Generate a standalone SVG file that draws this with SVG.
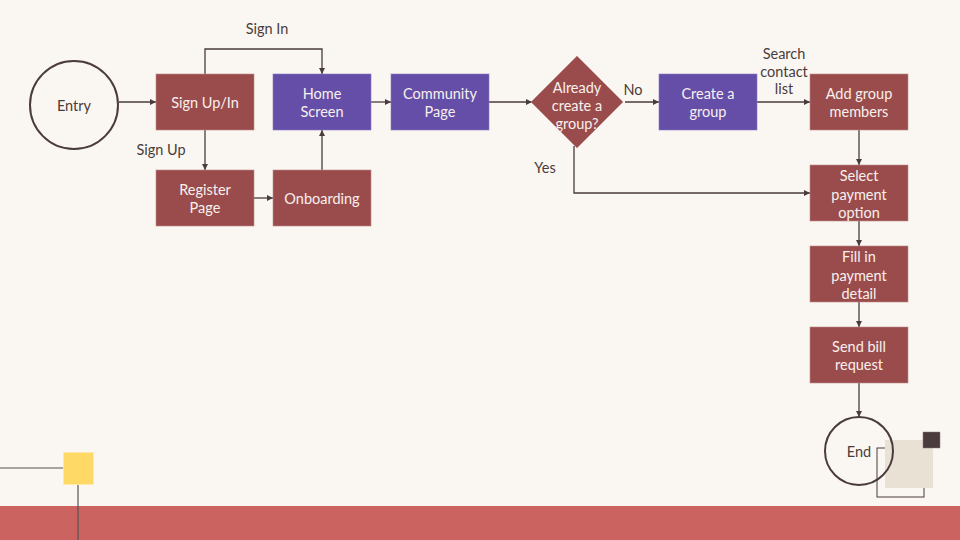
<svg xmlns="http://www.w3.org/2000/svg" width="960" height="540" viewBox="0 0 960 540">
<defs>
<marker id="ah" viewBox="0 0 10 10" refX="10" refY="5" markerWidth="6" markerHeight="6" markerUnits="userSpaceOnUse" orient="auto">
<path d="M0,0 L10,5 L0,10 z" fill="#4a3c3c"/>
</marker>
<style>
.m{fill:#9a4c4c;stroke:#c08a8a;stroke-width:0.6}
.p{fill:#654ea8;stroke:#8a78c0;stroke-width:0.6}
.t{font-family:Lato,"Open Sans","Liberation Sans",sans-serif;font-size:14.5px;fill:#f8f0ec;text-anchor:middle}
.d{font-family:Lato,"Open Sans","Liberation Sans",sans-serif;font-size:14.5px;fill:#4a3c3c;text-anchor:middle}
.c{fill:none;stroke:#4a3c3c;stroke-width:1.3}
.ci{fill:none;stroke:#4a3c3c;stroke-width:2}
</style>
</defs>
<rect width="960" height="540" fill="#faf7f2"/>
<rect x="0" y="506" width="960" height="34" fill="#cb6461"/>
<g id="decor">
<line x1="0" y1="468" x2="64" y2="468" stroke="#555" stroke-width="1.2"/>
<line x1="78" y1="485" x2="78" y2="540" stroke="#555" stroke-width="1.2"/>
<rect x="63.5" y="452.5" width="30" height="32" fill="#ffd966" stroke="#ffe9a8" stroke-width="0.8"/>
<rect x="877" y="448" width="47" height="49" fill="none" stroke="#4a3c3c" stroke-width="1"/>
<rect x="885" y="440" width="48" height="48" fill="#e9e1d3"/>
<rect x="923" y="432" width="17" height="16" fill="#4a3c3c" stroke="#8a7a7a" stroke-width="0.5"/>
</g>
<g id="connectors">
<line class="c" x1="119" y1="102" x2="156" y2="102" marker-end="url(#ah)"/>
<polyline class="c" points="205,74 205,49 322,49 322,74" marker-end="url(#ah)"/>
<line class="c" x1="205" y1="130" x2="205" y2="170" marker-end="url(#ah)"/>
<line class="c" x1="254" y1="198" x2="273" y2="198" marker-end="url(#ah)"/>
<line class="c" x1="322" y1="170" x2="322" y2="130" marker-end="url(#ah)"/>
<line class="c" x1="371" y1="102" x2="391" y2="102" marker-end="url(#ah)"/>
<line class="c" x1="489" y1="102" x2="532" y2="102" marker-end="url(#ah)"/>
<line class="c" x1="625" y1="102" x2="659" y2="102" marker-end="url(#ah)"/>
<polyline class="c" points="574,146 574,193 810,193" marker-end="url(#ah)"/>
<line class="c" x1="757" y1="102" x2="810" y2="102" marker-end="url(#ah)"/>
<line class="c" x1="859" y1="130" x2="859" y2="165" marker-end="url(#ah)"/>
<line class="c" x1="859" y1="221" x2="859" y2="246" marker-end="url(#ah)"/>
<line class="c" x1="859" y1="302" x2="859" y2="327" marker-end="url(#ah)"/>
<line class="c" x1="859" y1="383" x2="859" y2="417" marker-end="url(#ah)"/>
<text class="d" x="267" y="34">Sign In</text>
<text class="d" x="161" y="155">Sign Up</text>
<text class="d" x="633" y="95">No</text>
<text class="d" x="545" y="173">Yes</text>
<text class="d" x="784" y="59">Search</text>
<text class="d" x="784" y="77">contact</text>
<text class="d" x="784" y="94">list</text>
</g>
<g id="entry"><circle class="ci" cx="74" cy="105" r="44"/><text class="d" x="74" y="111">Entry</text></g>
<g id="signupin"><rect class="m" x="156" y="74" width="98" height="56"/><text class="t" x="205" y="108">Sign Up/In</text></g>
<g id="home"><rect class="p" x="273" y="74" width="98" height="56"/><text class="t" x="322" y="99">Home</text><text class="t" x="322" y="117">Screen</text></g>
<g id="register"><rect class="m" x="156" y="170" width="98" height="56"/><text class="t" x="205" y="195">Register</text><text class="t" x="205" y="213">Page</text></g>
<g id="onboarding"><rect class="m" x="273" y="170" width="98" height="56"/><text class="t" x="322" y="204">Onboarding</text></g>
<g id="community"><rect class="p" x="391" y="74" width="98" height="56"/><text class="t" x="440" y="99">Community</text><text class="t" x="440" y="117">Page</text></g>
<g id="decision"><polygon class="m" points="577,56 623,102 577,148 531,102"/><text class="t" x="577" y="93">Already</text><text class="t" x="577" y="111">create a</text><text class="t" x="577" y="129">group?</text></g>
<g id="create"><rect class="p" x="659" y="74" width="98" height="56"/><text class="t" x="708" y="99">Create a</text><text class="t" x="708" y="117">group</text></g>
<g id="addmembers"><rect class="m" x="810" y="74" width="98" height="56"/><text class="t" x="859" y="99">Add group</text><text class="t" x="859" y="117">members</text></g>
<g id="selectpay"><rect class="m" x="810" y="165" width="98" height="56"/><text class="t" x="859" y="181">Select</text><text class="t" x="859" y="200">payment</text><text class="t" x="859" y="218">option</text></g>
<g id="fillpay"><rect class="m" x="810" y="246" width="98" height="56"/><text class="t" x="859" y="262">Fill in</text><text class="t" x="859" y="281">payment</text><text class="t" x="859" y="299">detail</text></g>
<g id="sendbill"><rect class="m" x="810" y="327" width="98" height="56"/><text class="t" x="859" y="352">Send bill</text><text class="t" x="859" y="370">request</text></g>
<g id="end"><circle class="ci" cx="859" cy="451" r="34"/><text class="d" x="859" y="457">End</text></g>
</svg>
